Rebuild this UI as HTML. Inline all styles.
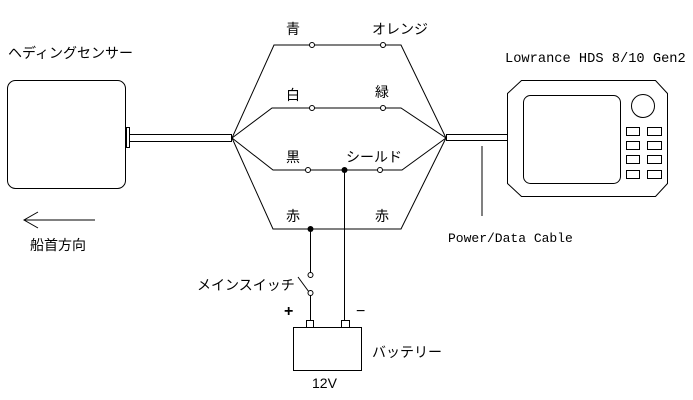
<!DOCTYPE html>
<html><head><meta charset="utf-8"><style>
html,body{margin:0;padding:0;background:#fff;width:693px;height:400px;overflow:hidden}
svg text{font-family:"Liberation Sans","Noto Sans CJK JP",sans-serif;font-size:14px;fill:#000}
</style></head><body>
<svg width="693" height="400" viewBox="0 0 693 400" xmlns="http://www.w3.org/2000/svg">
<g stroke="#000" stroke-width="1" fill="none">
<rect x="7.5" y="80.5" width="118" height="108" rx="8"/>
<rect x="126.5" y="127.5" width="3" height="20" fill="#fff"/>
<rect x="129.5" y="134.5" width="102" height="7"/>
<polyline points="232,138 274,45 401,45 446,138"/>
<polyline points="232,138 272,108 401,108 446,138"/>
<polyline points="232,138 273,170 402,170 446,138"/>
<polyline points="232,138 273,229 401,229 446,138"/>
<rect x="446.5" y="134.5" width="61" height="6"/>
<polygon points="521.5,80.5 655.5,80.5 667.5,93.5 667.5,183.5 655.5,196.5 521.5,196.5 507.5,183.5 507.5,93.5"/>
<rect x="523.5" y="95.5" width="97" height="88" rx="7"/>
<circle cx="643" cy="106" r="11.5"/>
<rect x="626.5" y="127.5" width="13" height="8"/><rect x="647.5" y="127.5" width="14" height="8"/>
<rect x="626.5" y="141.5" width="13" height="8"/><rect x="647.5" y="141.5" width="14" height="8"/>
<rect x="626.5" y="155.5" width="13" height="8"/><rect x="647.5" y="155.5" width="14" height="8"/>
<rect x="626.5" y="170.5" width="13" height="8"/><rect x="647.5" y="170.5" width="14" height="8"/>
<line x1="482" y1="146" x2="482" y2="216"/>
<line x1="24" y1="220" x2="95" y2="220"/>
<polyline points="38,212 24,220 38,228"/>
<line x1="310.5" y1="229" x2="310.5" y2="273"/>
<line x1="310.5" y1="295" x2="310.5" y2="320"/>
<line x1="298" y1="277" x2="309" y2="292"/>
<line x1="344.5" y1="170" x2="344.5" y2="320"/>
<rect x="306.5" y="320.5" width="7" height="7"/>
<rect x="341.5" y="320.5" width="8" height="7"/>
<rect x="293.5" y="327.5" width="68" height="43"/>
</g>
<g fill="#fff" stroke="#000">
<circle cx="312" cy="45" r="2.5"/><circle cx="383" cy="45" r="2.5"/>
<circle cx="312" cy="108" r="2.5"/><circle cx="383" cy="108" r="2.5"/>
<circle cx="308" cy="170" r="2.5"/><circle cx="380" cy="170" r="2.5"/>
<circle cx="310.5" cy="275" r="2.5"/><circle cx="310.5" cy="293" r="2.5"/>
</g>
<circle cx="344.5" cy="170" r="3" fill="#000"/>
<circle cx="310.5" cy="229" r="3" fill="#000"/>
<text x="8" y="58">ヘディングセンサー</text>
<text x="286" y="34">青</text>
<text x="372" y="34">オレンジ</text>
<text x="286" y="100">白</text>
<text x="375" y="97">緑</text>
<text x="286" y="162">黒</text>
<text x="346" y="162">シールド</text>
<text x="286" y="221">赤</text>
<text x="375" y="221">赤</text>
<text x="505" y="62" style="font-family:'Liberation Mono',monospace;font-size:13.7px">Lowrance HDS 8/10 Gen2</text>
<text x="448" y="242" style="font-family:'Liberation Mono',monospace;font-size:13px">Power/Data Cable</text>
<text x="30" y="250">船首方向</text>
<text x="197" y="290">メインスイッチ</text>
<text x="284" y="316" style="font-size:16px;font-weight:bold">+</text>
<text x="356" y="316" style="font-size:16px">−</text>
<text x="372" y="357">バッテリー</text>
<text x="312" y="388">12V</text>
</svg>
</body></html>
